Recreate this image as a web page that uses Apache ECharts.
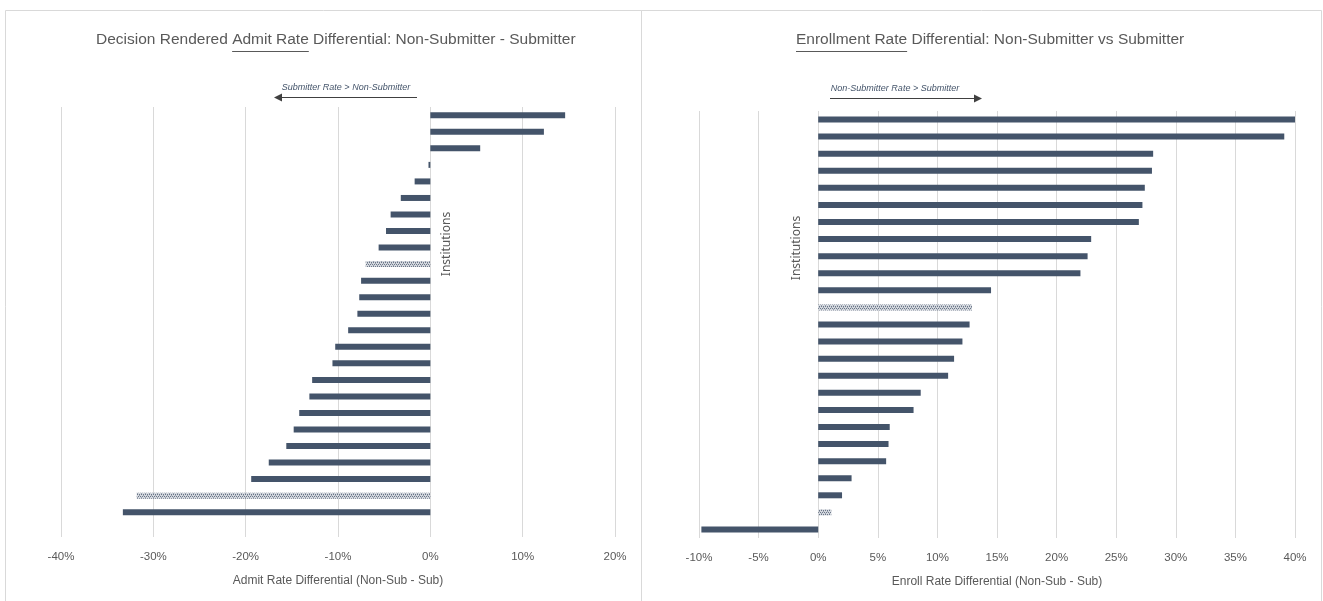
<!DOCTYPE html>
<html>
<head>
<meta charset="utf-8">
<script src="https://cdn.jsdelivr.net/npm/echarts@6/dist/echarts.min.js"></script>
<style>
html, body { margin: 0; padding: 0; background: #fff; }
#main { width: 1323px; height: 601px; }
</style>
</head>
<body>
<div id="main"></div>
<script>
// left chart: admit rate differential, one value per institution (last slot is empty)
var admitInstitutions = ['1','2','3','4','5','6','7','8','9','10','11','12','13','14','15','16','17','18','19','20','21','22','23','24','25','26'];
var admitDiff = [0.146, 0.123, 0.054, -0.002, -0.017, -0.032, -0.043, -0.048, -0.056, -0.070,
    -0.075, -0.077, -0.079, -0.089, -0.103, -0.106, -0.128, -0.131, -0.142, -0.148,
    -0.156, -0.175, -0.194, -0.318, -0.333, null];
var admitHighlight = [9, 23];
var admitAxis = [-0.4, 0.2, 0.1];

// right chart: enrollment rate differential
var enrollInstitutions = ['1','2','3','4','5','6','7','8','9','10','11','12','13','14','15','16','17','18','19','20','21','22','23','24','25'];
var enrollDiff = [0.400, 0.391, 0.281, 0.280, 0.274, 0.272, 0.269, 0.229, 0.226, 0.220,
    0.145, 0.129, 0.127, 0.121, 0.114, 0.109, 0.086, 0.080, 0.060, 0.059,
    0.057, 0.028, 0.020, 0.011, -0.098];
var enrollHighlight = [11, 23];
var enrollAxis = [-0.1, 0.4, 0.05];

var FONT = '"Liberation Sans Narrow", "Liberation Sans", sans-serif';
var BAR = '#44546a';
var GREY = '#595959';

// dotted pattern used by the highlighted institutions
function makePattern() {
    var c = document.createElement('canvas');
    c.width = 4; c.height = 4;
    var ctx = c.getContext('2d');
    ctx.fillStyle = '#d4d8de';
    ctx.fillRect(0, 0, 4, 4);
    ctx.fillStyle = '#6b7688';
    ctx.fillRect(0, 0, 1, 1);
    ctx.fillRect(2, 0, 1, 1);
    ctx.fillRect(1, 2, 1, 1);
    ctx.fillRect(3, 2, 1, 1);
    ctx.fillStyle = '#9aa3b0';
    ctx.fillRect(1, 1, 1, 1);
    ctx.fillRect(3, 3, 1, 1);
    return c;
}
var pattern = { image: makePattern(), repeat: 'repeat' };

function toBarData(values, highlight) {
    var out = [];
    for (var i = 0; i < values.length; i++) {
        if (highlight.indexOf(i) >= 0) {
            out.push({ value: values[i], itemStyle: { color: pattern } });
        } else {
            out.push(values[i]);
        }
    }
    return out;
}

var measureCtx = document.createElement('canvas').getContext('2d');
function textWidth(str, font) {
    measureCtx.font = font;
    return measureCtx.measureText(str).width;
}

// title with an underlined part, centred on cx
function titleGraphic(before, under, after, cx, cy) {
    var font = '15.5px ' + FONT;
    var w0 = textWidth(before, font);
    var w1 = textWidth(under, font);
    var total = w0 + w1 + textWidth(after, font);
    var x = Math.round(cx - total / 2);
    return [{
        type: 'text', x: x, y: cy,
        style: { text: before + under + after, font: font, fill: GREY, textAlign: 'left', textVerticalAlign: 'middle' }
    }, {
        type: 'line',
        shape: { x1: x + w0, y1: cy + 11.5, x2: x + w0 + w1, y2: cy + 11.5 },
        style: { stroke: GREY, lineWidth: 1 }
    }];
}

function arrowGraphic(text, x1, x2, textX, y) {
    var dir = x2 > x1 ? 1 : -1;
    return [{
        type: 'text', x: textX, y: y - 10,
        style: { text: text, font: 'italic 9px ' + FONT, fill: BAR, textAlign: 'center', textVerticalAlign: 'middle' }
    }, {
        type: 'line',
        shape: { x1: x1, y1: y + 0.5, x2: x2 - dir * 6, y2: y + 0.5 },
        style: { stroke: '#404040', lineWidth: 1 }
    }, {
        type: 'polygon',
        shape: { points: [[x2, y + 0.5], [x2 - dir * 8, y - 3.5], [x2 - dir * 8, y + 4.5]] },
        style: { fill: '#404040' }
    }];
}

function pctLabel(v) {
    return Math.round(v * 100) + '%';
}

function valueAxis(gridIndex, range, name) {
    return {
        type: 'value',
        gridIndex: gridIndex,
        min: range[0],
        max: range[1],
        interval: range[2],
        name: name,
        nameLocation: 'middle',
        nameGap: 38,
        nameTextStyle: { color: GREY, fontSize: 12, fontFamily: FONT },
        axisLine: { show: false },
        axisTick: { show: false },
        axisLabel: { color: GREY, fontSize: 11.5, fontFamily: FONT, margin: 14, formatter: pctLabel },
        splitLine: { show: true, lineStyle: { color: '#d9d9d9', width: 1 } }
    };
}

function categoryAxis(gridIndex, cats) {
    return {
        type: 'category',
        gridIndex: gridIndex,
        data: cats,
        inverse: true,
        axisLine: { show: false },
        axisTick: { show: false },
        axisLabel: { show: false },
        splitLine: { show: false }
    };
}

var chart = echarts.init(document.getElementById('main'));

var graphics = [{
    type: 'rect',
    shape: { x: 5.5, y: 10.5, width: 636, height: 700 },
    style: { fill: 'none', stroke: '#d9d9d9', lineWidth: 1 }
}, {
    type: 'rect',
    shape: { x: 641.5, y: 10.5, width: 680, height: 700 },
    style: { fill: 'none', stroke: '#d9d9d9', lineWidth: 1 }
}];
graphics = graphics
    .concat(titleGraphic('Decision Rendered ', 'Admit Rate', ' Differential: Non-Submitter - Submitter', 336, 40))
    .concat(titleGraphic('', 'Enrollment Rate', ' Differential: Non-Submitter vs Submitter', 990, 40))
    .concat(arrowGraphic('Submitter Rate > Non-Submitter', 417, 274, 346, 97))
    .concat(arrowGraphic('Non-Submitter Rate > Submitter', 830, 982, 895, 98));

var option = {
    backgroundColor: '#fff',
    animation: false,
    grid: [
        { left: 61, width: 554, top: 107, height: 430, outerBoundsMode: 'none' },
        { left: 699, width: 596, top: 111, height: 427, outerBoundsMode: 'none' }
    ],
    xAxis: [
        valueAxis(0, admitAxis, 'Admit Rate Differential (Non-Sub - Sub)'),
        valueAxis(1, enrollAxis, 'Enroll Rate Differential (Non-Sub - Sub)')
    ],
    yAxis: [
        categoryAxis(0, admitInstitutions),
        categoryAxis(1, enrollInstitutions)
    ],
    series: [{
        name: 'Admit Rate Differential',
        type: 'bar',
        xAxisIndex: 0,
        yAxisIndex: 0,
        barWidth: 6,
        itemStyle: { color: BAR },
        data: toBarData(admitDiff, admitHighlight)
    }, {
        name: 'Enroll Rate Differential',
        type: 'bar',
        xAxisIndex: 1,
        yAxisIndex: 1,
        barWidth: 6,
        itemStyle: { color: BAR },
        data: toBarData(enrollDiff, enrollHighlight)
    }],
    graphic: { elements: graphics }
};

chart.setOption(option);

// "Institutions" titles sit next to the zero line of each chart
var zeroLeft = chart.convertToPixel({ xAxisIndex: 0 }, 0);
var zeroRight = chart.convertToPixel({ xAxisIndex: 1 }, 0);
function institutionsLabel(x, y) {
    return {
        type: 'text', x: x, y: y, rotation: Math.PI / 2,
        style: { text: 'Institutions', font: '12px "Noto Sans"', fill: GREY, textAlign: 'center', textVerticalAlign: 'middle' }
    };
}
chart.setOption({
    graphic: { elements: graphics.concat([
        institutionsLabel(zeroLeft + 16, 244),
        institutionsLabel(zeroRight - 22, 248)
    ]) }
});
</script>
</body>
</html>
